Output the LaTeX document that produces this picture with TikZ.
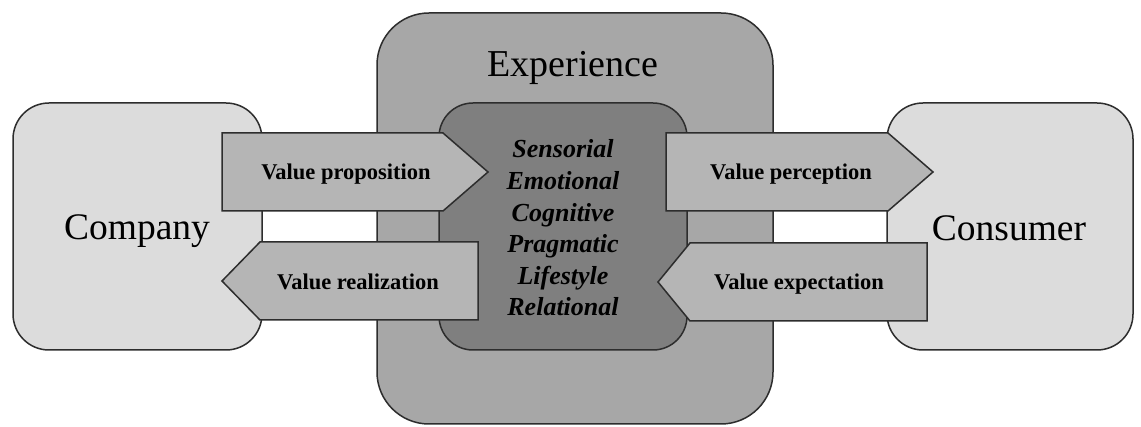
\documentclass[tikz,border=0pt]{standalone}
\usepackage{fontspec}
\setmainfont{Liberation Serif}
\definecolor{sidefill}{RGB}{220,220,220}
\definecolor{expfill}{RGB}{167,167,167}
\definecolor{innerfill}{RGB}{127,127,127}
\definecolor{arrowfill}{RGB}{181,181,181}
\definecolor{edge}{RGB}{45,45,45}
\begin{document}
\begin{tikzpicture}[x=1pt,y=-1pt,
  sidebox/.style={draw=edge, line width=1.5pt, fill=sidefill, rounded corners=36pt},
  expbox/.style={draw=edge, line width=1.5pt, fill=expfill, rounded corners=52pt},
  innerbox/.style={draw=edge, line width=1.5pt, fill=innerfill, rounded corners=34pt},
  valarrow/.style={draw=edge, line width=1.5pt, fill=arrowfill, line join=miter},
  bigtxt/.style={font=\fontsize{37.5}{42}\selectfont, inner sep=0pt, anchor=base},
  valtxt/.style={font=\fontsize{22.5}{26}\selectfont\bfseries, inner sep=0pt, anchor=base},
  dimtxt/.style={font=\fontsize{26}{31.6}\selectfont\bfseries\itshape, align=center, inner sep=0pt}]
\useasboundingbox (0,0) rectangle (1141,427);
\fill[white] (0,0) rectangle (1141,427);
% side boxes
\draw[sidebox] (13,103) rectangle (262,350);
\draw[sidebox] (887,103) rectangle (1133,350);
% experience
\draw[expbox] (377,13) rectangle (773,424);
\draw[innerbox] (439,103) rectangle (687,350);
% arrows
\draw[valarrow] (222,133) -- (443,133) -- (488,172) -- (443,211) -- (222,211) -- cycle;
\draw[valarrow] (478,242) -- (260,242) -- (222,281) -- (260,320) -- (478,320) -- cycle;
\draw[valarrow] (666,133) -- (888,133) -- (933,172) -- (888,211) -- (666,211) -- cycle;
\draw[valarrow] (927,243) -- (690,243) -- (658,282) -- (690,321) -- (927,321) -- cycle;
% texts
\node[bigtxt] (company) at (137,240) {Company};
\node[bigtxt] (consumer) at (1009,241) {Consumer};
\node[bigtxt, font=\fontsize{38}{42}\selectfont] (experience) at (573,77) {Experience};
\node[valtxt] (vprop) at (346,180) {Value proposition};
\node[valtxt] (vreal) at (358,290) {Value realization};
\node[valtxt] (vperc) at (791,180) {Value perception};
\node[valtxt] (vexp) at (799,290) {Value expectation};
\node[dimtxt] (dims) at (563,228) {Sensorial\\Emotional\\Cognitive\\Pragmatic\\Lifestyle\\Relational};
\end{tikzpicture}
\end{document}
